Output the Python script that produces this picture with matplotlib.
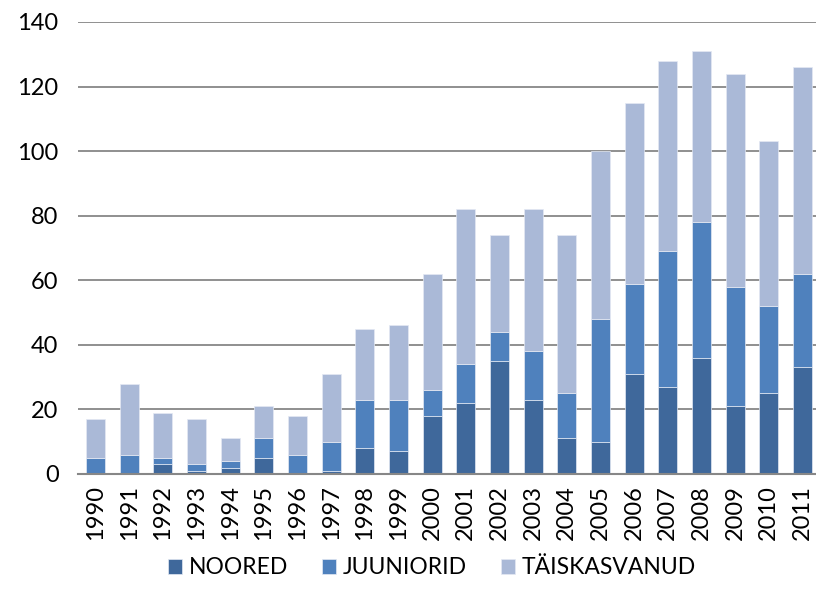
import matplotlib
matplotlib.use('Agg')
import numpy as np
from matplotlib import pyplot

YEARS = [str(y) for y in range(1990, 2012)]
NOORED = [0, 0, 3, 1, 2, 5, 0, 1, 8, 7, 18, 22, 35, 23, 11, 10, 31, 27, 36, 21, 25, 33]
JUUNIORID = [5, 6, 2, 2, 2, 6, 6, 9, 15, 16, 8, 12, 9, 15, 14, 38, 28, 42, 42, 37, 27, 29]
TAISKASVANUD = [12, 22, 14, 14, 7, 10, 12, 21, 22, 23, 36, 48, 30, 44, 49, 52, 56, 59, 53, 66, 51, 64]
SERIES_NAMES = ['NOORED', 'JUUNIORID', 'TÄISKASVANUD']

COLORS = ['#3F689B', '#4F81BD', '#AAB9D7']
GRID_COLOR = '#878787'
W, H = 816, 596

pyplot.rcParams['font.family'] = ['Lato', 'DejaVu Sans']
fig = pyplot.figure(figsize=(W / 100, H / 100), dpi=100)
ax = fig.add_axes([78 / W, 1 - 474 / H, (816 - 78) / W, (474 - 22) / H])

x = np.arange(len(YEARS))
bottom = np.zeros(len(YEARS))
for name, values, color in zip(SERIES_NAMES, [NOORED, JUUNIORID, TAISKASVANUD], COLORS):
    ax.bar(x, values, width=0.565, bottom=bottom, color=color, label=name,
           edgecolor='#e4e9f3', linewidth=0.5, zorder=3)
    bottom += np.array(values)

ax.set_xlim(-0.52, len(YEARS) - 1 + 0.4)
ax.set_ylim(0, 140)
ax.set_yticks(range(0, 141, 20))
ax.yaxis.grid(True, color=GRID_COLOR, linewidth=1.3, zorder=0)
ax.set_axisbelow(True)
for side in ['top', 'right', 'left']:
    ax.spines[side].set_visible(False)
ax.spines['bottom'].set_color(GRID_COLOR)
ax.spines['bottom'].set_linewidth(1.5)
ax.spines['bottom'].set_zorder(4)
ax.set_xticks(x)
ax.set_xticklabels(YEARS, rotation=90)
ax.tick_params(axis='both', length=0, labelsize=17, colors='black')
ax.tick_params(axis='y', pad=14)
ax.tick_params(axis='x', pad=8)

ax.legend(loc='center', bbox_to_anchor=(432 / W, 1 - 568 / H), bbox_transform=fig.transFigure,
          ncol=3, frameon=False, fontsize=16.5, handlelength=0.6, handleheight=0.6,
          handletextpad=0.3, columnspacing=1.5)

fig.savefig('out.png', dpi=100)
